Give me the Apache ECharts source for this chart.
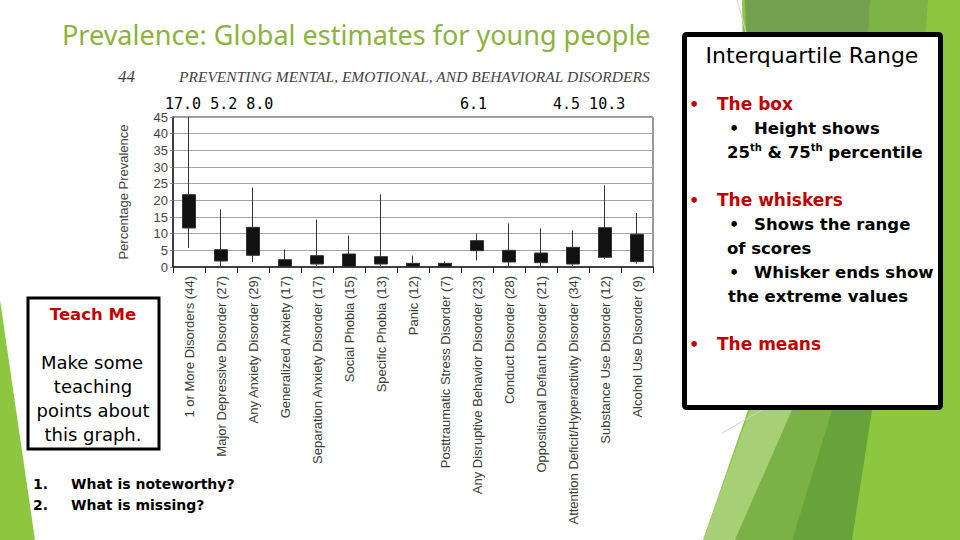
<!DOCTYPE html>
<html>
<head>
<meta charset="utf-8">
<script src="https://cdn.jsdelivr.net/npm/echarts@6/dist/echarts.min.js"></script>
<style>
  html, body { margin: 0; padding: 0; background: #fff; }
  #slide { width: 960px; height: 540px; }
</style>
</head>
<body>
<div id="slide"></div>
<script>
// categories (sample count in brackets, as printed on the figure)
const disorders = [
  '1 or More Disorders (44)',
  'Major Depressive Disorder (27)',
  'Any Anxiety Disorder (29)',
  'Generalized Anxiety (17)',
  'Separation Anxiety Disorder (17)',
  'Social Phobia (15)',
  'Specific Phobia (13)',
  'Panic (12)',
  'Posttraumatic Stress Disorder (7)',
  'Any Disruptive Behavior Disorder (23)',
  'Conduct Disorder (28)',
  'Oppositional Defiant Disorder (21)',
  'Attention Deficit/Hyperactivity Disorder (34)',
  'Substance Use Disorder (12)',
  'Alcohol Use Disorder (9)'
]
// percentage prevalence
const lowest = [5.7, 0.3, 1.5, 0, 0.3, 0, 0.3, 0, 0, 2.0, 0.2, 0.3, 0.3, 2.3, 1.0]
const q25 = [11.7, 1.8, 3.5, 0.1, 0.9, 0.1, 0.9, 0.1, 0.1, 4.9, 1.5, 1.3, 0.9, 2.9, 1.6]
const q75 = [21.7, 5.2, 11.9, 2.2, 3.4, 3.9, 3.1, 1.1, 1.1, 7.9, 5.0, 4.2, 5.9, 11.8, 9.8]
const highest = [45, 17.3, 23.8, 5.3, 14.2, 9.4, 21.8, 3.4, 1.7, 10.0, 13.1, 11.6, 11.0, 24.5, 16.2]
const yMax = 45
const yStep = 5
// means typed above the plot on the slide
const meanNotes = ['17.0 5.2 8.0', '6.1', '4.5 10.3']

const boxData = disorders.map((d, i) => [q25[i], q75[i], lowest[i], highest[i]])

const sans = 'DejaVu Sans'
const txt = (text, x, y, size, opts = {}) => ({
  type: 'text',
  silent: true,
  z: 20,
  style: Object.assign({
    text: text,
    x: x,
    y: y,
    fill: '#000',
    fontFamily: sans,
    fontSize: size,
    fontWeight: 'normal',
    textAlign: 'left',
    textVerticalAlign: 'middle'
  }, opts)
})
const poly = (points, color, z = 1) => ({
  type: 'polygon',
  silent: true,
  z: z,
  shape: { points: points },
  style: { fill: color }
})

const chart = echarts.init(document.getElementById('slide'), null, { renderer: 'svg' })
chart.setOption({
  backgroundColor: '#fff',
  animation: false,
  grid: {
    left: 173,
    right: 307,
    top: 117,
    bottom: 273,
    containLabel: false,
    outerBoundsMode: 'none',
    show: true,
    borderColor: '#333',
    borderWidth: 1
  },
  xAxis: {
    type: 'category',
    data: disorders,
    axisLine: { lineStyle: { color: '#222', width: 1.5 } },
    axisTick: { show: true, length: 6, lineStyle: { color: '#222' } },
    axisLabel: {
      interval: 0,
      rotate: 90,
      margin: 9,
      fontFamily: 'Liberation Sans',
      fontSize: 13,
      color: '#3c3c3c'
    },
    splitLine: { show: false }
  },
  yAxis: {
    type: 'value',
    min: 0,
    max: yMax,
    interval: yStep,
    name: 'Percentage Prevalence',
    nameLocation: 'middle',
    nameGap: 43,
    nameTextStyle: { fontFamily: 'Liberation Sans', fontSize: 13, color: '#444' },
    axisLine: { show: true, lineStyle: { color: '#222', width: 1.5 } },
    axisTick: { show: true, length: 3, lineStyle: { color: '#888' } },
    axisLabel: { fontFamily: 'Liberation Sans', fontSize: 13, color: '#444', margin: 5 },
    splitLine: { lineStyle: { color: '#a4a4a4', width: 1.2 } }
  },
  series: [{
    type: 'candlestick',
    data: boxData,
    barWidth: 13,
    itemStyle: {
      color: '#111',
      color0: '#111',
      borderColor: '#333',
      borderColor0: '#333',
      borderWidth: 1
    }
  }],
  graphic: [
    // green facets, right side
    poly([[742, 0], [960, 0], [960, 540], [703, 540], [748, 410]], '#8dc63f', 1),
    poly([[745, 0], [870, 0], [850, 410], [760, 410]], '#739f4e', 2),
    poly([[870, 0], [928, 0], [900, 410], [850, 410]], '#7db244', 2),
    poly([[750, 410], [792, 410], [735, 540], [703, 540]], '#a7cf76', 2),
    poly([[792, 410], [832, 410], [792, 540], [735, 540]], '#7bb247', 2),
    poly([[832, 410], [872, 410], [852, 540], [792, 540]], '#68a23b', 2),
    { type: 'line', silent: true, z: 3, shape: { x1: 722, y1: 433, x2: 776, y2: 402 }, style: { stroke: '#d0d0d0', lineWidth: 1 } },
    { type: 'line', silent: true, z: 3, shape: { x1: 737, y1: 0, x2: 746, y2: 32 }, style: { stroke: '#d0d0d0', lineWidth: 1 } },
    // green wedge, left side
    poly([[0, 300], [35, 540], [0, 540]], '#8dc63f', 1),

    // title and book header
    txt('Prevalence: Global estimates for young people', 62, 34, 27, { fontFamily: 'Noto Sans', fill: '#8bb33d' }),
    txt('44', 118, 76, 17, { fontFamily: 'Liberation Serif', fontStyle: 'italic', fill: '#444' }),
    txt('PREVENTING MENTAL, EMOTIONAL, AND BEHAVIORAL DISORDERS', 179, 76, 15.5, { fontFamily: 'Liberation Serif', fontStyle: 'italic', fill: '#444' }),
    txt(meanNotes[0], 165, 104, 15, { fontFamily: 'DejaVu Sans Mono' }),
    txt(meanNotes[1], 460, 104, 15, { fontFamily: 'DejaVu Sans Mono' }),
    txt(meanNotes[2], 553, 104, 15, { fontFamily: 'DejaVu Sans Mono' }),

    // right note box
    { type: 'rect', silent: true, z: 10, shape: { x: 684.5, y: 34.5, width: 256, height: 373, r: 2 }, style: { fill: '#fff', stroke: '#000', lineWidth: 5 } },
    txt('Interquartile Range', 812, 55, 22, { textAlign: 'center' }),
    txt('•', 689, 104, 16, { fill: '#c00000', fontWeight: 'bold' }),
    txt('The box', 717, 104, 17, { fill: '#c00000', fontWeight: 'bold' }),
    txt('•', 729, 128, 16, { fontWeight: 'bold' }),
    txt('Height shows', 754, 128, 16.5, { fontWeight: 'bold' }),
    txt('{b|25}{s|th}{b| & 75}{s|th}{b| percentile}', 727, 152, 16.5, {
      rich: {
        b: { fontFamily: sans, fontSize: 16.5, fontWeight: 'bold', fill: '#000', lineHeight: 20 },
        s: { fontFamily: sans, fontSize: 10, fontWeight: 'bold', fill: '#000', lineHeight: 12, verticalAlign: 'top' }
      }
    }),
    txt('•', 689, 200, 16, { fill: '#c00000', fontWeight: 'bold' }),
    txt('The whiskers', 717, 200, 17, { fill: '#c00000', fontWeight: 'bold' }),
    txt('•', 729, 224, 16, { fontWeight: 'bold' }),
    txt('Shows the range', 754, 224, 16.5, { fontWeight: 'bold' }),
    txt('of scores', 727, 248, 16.5, { fontWeight: 'bold' }),
    txt('•', 729, 272, 16, { fontWeight: 'bold' }),
    txt('Whisker ends show', 754, 272, 16.5, { fontWeight: 'bold' }),
    txt('the extreme values', 728, 296, 16.5, { fontWeight: 'bold' }),
    txt('•', 689, 344, 16, { fill: '#c00000', fontWeight: 'bold' }),
    txt('The means', 717, 344, 17, { fill: '#c00000', fontWeight: 'bold' }),

    // left "Teach Me" box
    { type: 'rect', silent: true, z: 10, shape: { x: 28, y: 298, width: 131, height: 151 }, style: { fill: '#fff', stroke: '#000', lineWidth: 3 } },
    txt('Teach Me', 93, 314, 16.5, { textAlign: 'center', fill: '#c00000', fontWeight: 'bold' }),
    txt('Make some', 92, 362, 18, { textAlign: 'center' }),
    txt('teaching', 93, 386, 18, { textAlign: 'center' }),
    txt('points about', 93, 410, 18, { textAlign: 'center' }),
    txt('this graph.', 93, 434, 18, { textAlign: 'center' }),
    txt('1.', 33, 484, 14, { fontWeight: 'bold' }),
    txt('What is noteworthy?', 71, 484, 14, { fontWeight: 'bold' }),
    txt('2.', 33, 505, 14, { fontWeight: 'bold' }),
    txt('What is missing?', 71, 505, 14, { fontWeight: 'bold' })
  ]
})
</script>
</body>
</html>
